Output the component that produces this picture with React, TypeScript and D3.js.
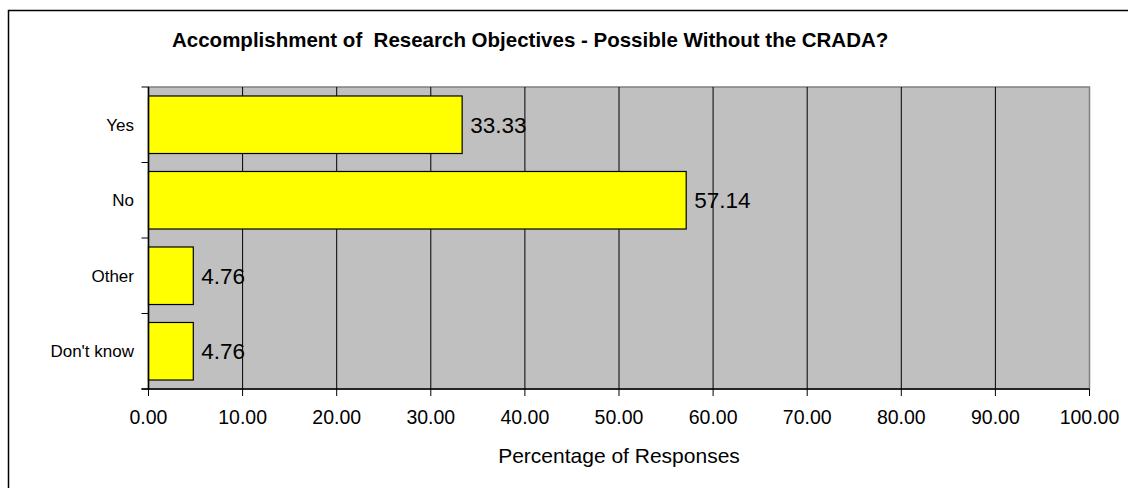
import React from "react";
import * as d3 from "d3";

const categories = ["Yes", "No", "Other", "Don't know"];
const percentages = [33.33, 57.14, 4.76, 4.76];
const xTicks = [0, 10, 20, 30, 40, 50, 60, 70, 80, 90, 100];
const chartTitle = "Accomplishment of  Research Objectives - Possible Without the CRADA?";
const xAxisTitle = "Percentage of Responses";

const W = 1128;
const H = 488;
const plot = { left: 148.5, right: 1089.5, top: 87, bottom: 389 };
const FONT = "'Liberation Sans', Arial, sans-serif";

export default function App() {
  const x = d3.scaleLinear().domain([0, 100]).range([plot.left, plot.right]);
  const y = d3
    .scaleBand<string>()
    .domain(categories)
    .range([plot.top, plot.bottom])
    .paddingInner(0.238)
    .paddingOuter(0.119);
  const step = y.step();
  const boundaries = d3.range(categories.length + 1).map((i) => plot.top + i * step);

  return (
    <svg
      width={W}
      height={H}
      style={{ position: "absolute", left: 0, top: 0, background: "#fff" }}
      fontFamily={FONT}
    >
      {/* chart frame */}
      <rect x={8.5} y={10.5} width={W + 20} height={H + 20} fill="#fff" stroke="#000" strokeWidth={1.5} />

      <text
        x={172}
        y={47}
        textAnchor="start"
        fontSize={20.5}
        fontWeight="bold"
        fill="#000"
        style={{ whiteSpace: "pre" }}
      >
        {chartTitle}
      </text>

      {/* plot area */}
      <rect
        x={plot.left}
        y={plot.top}
        width={plot.right - plot.left}
        height={plot.bottom - plot.top}
        fill="#c0c0c0"
        stroke="#808080"
        strokeWidth={1.5}
      />

      {/* vertical gridlines */}
      {xTicks.slice(1, -1).map((t) => (
        <line key={`g${t}`} x1={x(t)} x2={x(t)} y1={plot.top} y2={plot.bottom} stroke="#000" strokeWidth={1} />
      ))}

      {/* bars */}
      {categories.map((c, i) => (
        <rect
          key={c}
          x={x(0)}
          y={y(c)!}
          width={x(percentages[i]) - x(0)}
          height={y.bandwidth()}
          fill="#ffff00"
          stroke="#000"
          strokeWidth={1.2}
        />
      ))}

      {/* bar value labels */}
      {categories.map((c, i) => (
        <text
          key={`v${c}`}
          x={x(percentages[i]) + 8}
          y={y(c)! + y.bandwidth() / 2}
          dy="0.36em"
          fontSize={22.5}
          fill="#000"
        >
          {percentages[i].toFixed(2)}
        </text>
      ))}

      {/* category axis */}
      <line x1={plot.left} x2={plot.left} y1={plot.top} y2={plot.bottom} stroke="#000" strokeWidth={1.5} />
      {boundaries.map((b, i) => (
        <line key={`yt${i}`} x1={plot.left - 7} x2={plot.left} y1={b} y2={b} stroke="#000" strokeWidth={1} />
      ))}
      {categories.map((c) => (
        <text
          key={`l${c}`}
          x={134}
          y={y(c)! + y.bandwidth() / 2}
          dy="0.36em"
          textAnchor="end"
          fontSize={17}
          fill="#000"
        >
          {c}
        </text>
      ))}

      {/* value axis */}
      <line x1={plot.left - 7} x2={plot.right} y1={plot.bottom} y2={plot.bottom} stroke="#000" strokeWidth={1.5} />
      {xTicks.map((t) => (
        <g key={`xt${t}`}>
          <line x1={x(t)} x2={x(t)} y1={plot.bottom} y2={plot.bottom + 7} stroke="#000" strokeWidth={1} />
          <text x={x(t)} y={424} textAnchor="middle" fontSize={19.5} fill="#000">
            {t.toFixed(2)}
          </text>
        </g>
      ))}
      <text x={(plot.left + plot.right) / 2} y={462.5} textAnchor="middle" fontSize={21} fill="#000">
        {xAxisTitle}
      </text>
    </svg>
  );
}
